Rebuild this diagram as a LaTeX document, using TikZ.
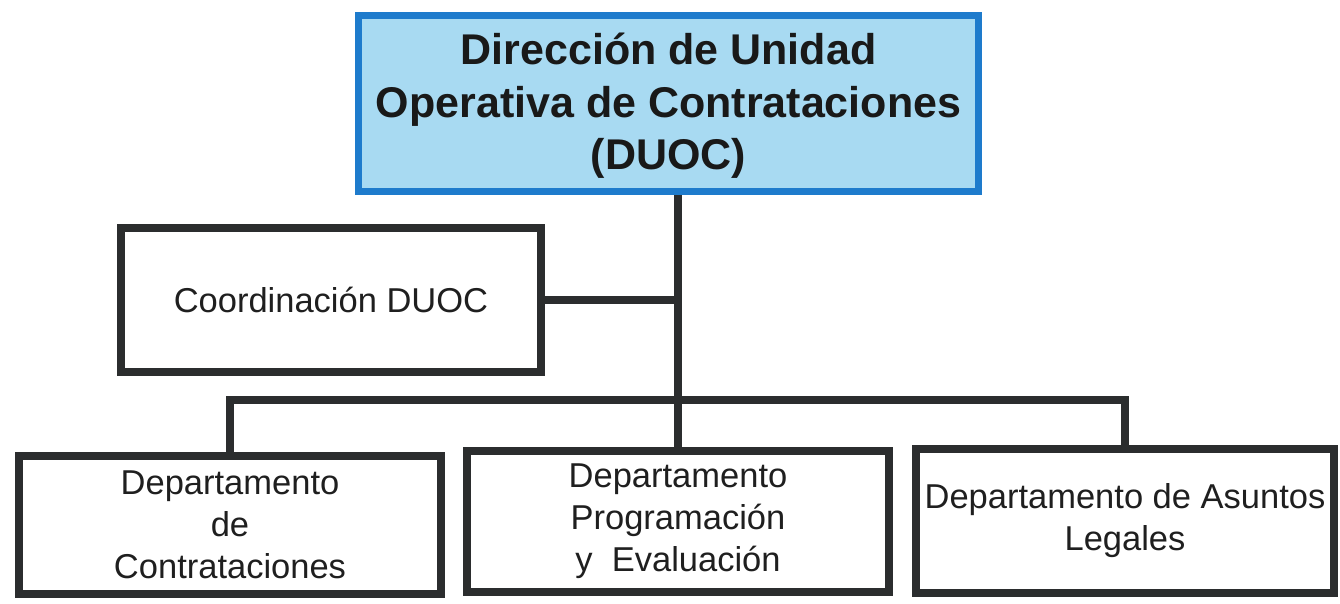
\documentclass[tikz,border=0pt]{standalone}
\usepackage{fontspec}
\setmainfont{Liberation Sans}
\definecolor{linegray}{HTML}{2B2D2E}
\definecolor{duocblue}{HTML}{1E7BCC}
\definecolor{duocfill}{HTML}{A8DAF2}
\begin{document}
\begin{tikzpicture}[x=1pt,y=-1pt,
  orgbox/.style={draw=linegray, line width=8pt, fill=white, align=center, inner sep=0pt,
    font=\fontsize{34.5}{42}\selectfont, text=black!88},
  headbox/.style={draw=duocblue, line width=7pt, fill=duocfill, align=center, inner sep=0pt,
    font=\fontsize{43}{52.5}\selectfont\bfseries, text=black!90},
  link/.style={draw=linegray, line width=8pt}]
\useasboundingbox (0,0) rectangle (1340,604);
\fill[white] (0,0) rectangle (1340,604);

\node[headbox, minimum width=620pt, minimum height=176pt] (top) at (668.5,103.5) {};
\node[headbox, draw=none, fill=none] (toptext) at (668.5,106)
  {Dirección de Unidad\\Operativa de Contrataciones\\(DUOC)};
\node[orgbox, minimum width=420pt, minimum height=144pt] (coord) at (331,300)
  {Coordinación DUOC};
\node[orgbox, minimum width=422pt, minimum height=138pt] (left) at (230,525)
  {Departamento\\de\\Contrataciones};
\node[orgbox, minimum width=422pt, minimum height=141pt] (mid) at (678,521.5)
  {Departamento\\Programación\\y\ \ Evaluación};
\node[orgbox, minimum width=418pt, minimum height=144pt] (right) at (1125,521)
  {Departamento de Asuntos\\Legales};

\coordinate (bus) at (676,400);
\draw[link] (top.south -| mid.north) -- (mid.north);
\draw[link] (coord.east) -- (coord.east -| mid.north);
\draw[link] (left.north) |- (bus) -| (right.north);
\end{tikzpicture}
\end{document}
